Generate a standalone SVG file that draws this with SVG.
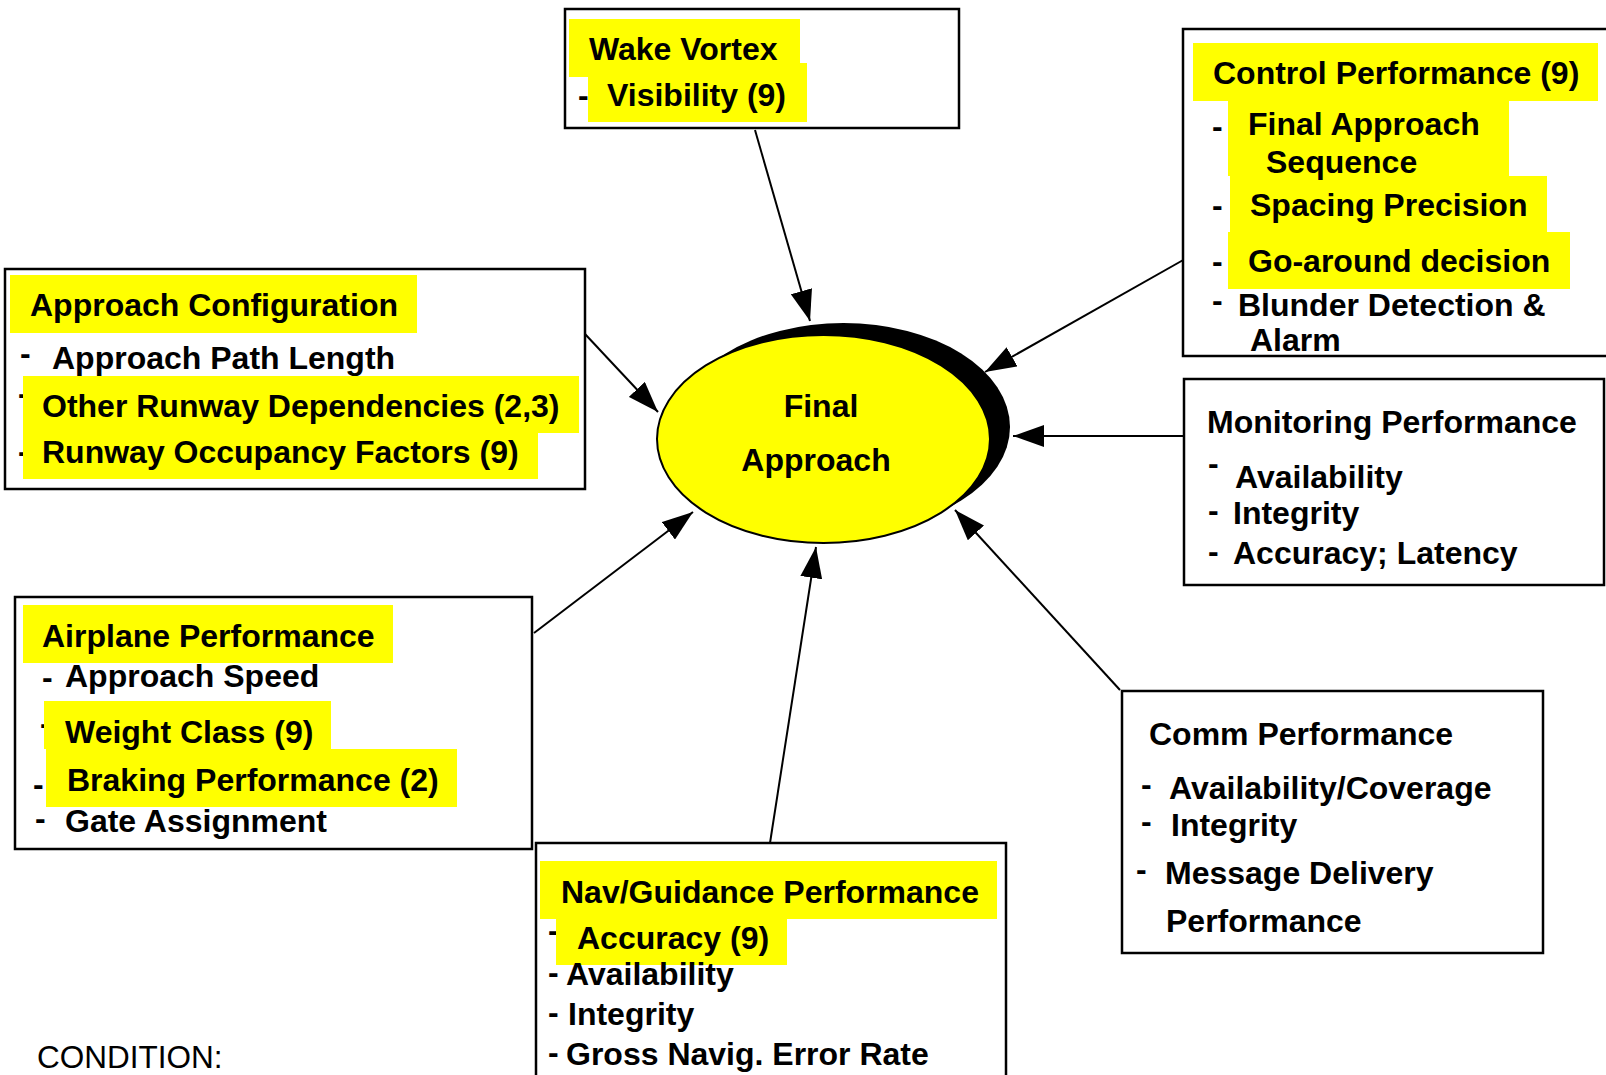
<svg xmlns="http://www.w3.org/2000/svg" width="1606" height="1075" viewBox="0 0 1606 1075">
<style>
.box{fill:#fff;stroke:#000;stroke-width:2.5}
.hl{fill:#ffff00}
.t{font-family:"Liberation Sans",Arial,sans-serif;font-weight:bold;font-size:32px;fill:#000}
.c{font-family:"Liberation Sans",Arial,sans-serif;font-size:31.5px;fill:#000}
.edge{stroke:#000;stroke-width:2;fill:none;marker-end:url(#ah)}
</style>
<defs>
<marker id="ah" markerUnits="userSpaceOnUse" markerWidth="32" markerHeight="22" refX="31" refY="11" orient="auto">
<path d="M0,0 L31,11 L0,22 z" fill="#000"/>
</marker>
</defs>
<rect width="1606" height="1075" fill="#fff"/>

<g id="connectors">
<line class="edge" x1="755" y1="130" x2="810" y2="321"/>
<line class="edge" x1="1185" y1="259" x2="985" y2="372"/>
<line class="edge" x1="1185" y1="436" x2="1013" y2="436"/>
<line class="edge" x1="1120" y1="690" x2="955" y2="510"/>
<line class="edge" x1="770" y1="843" x2="816" y2="547"/>
<line class="edge" x1="534" y1="633" x2="693" y2="512"/>
<line class="edge" x1="585" y1="334" x2="658" y2="412"/>
</g>

<g id="final-approach">
<ellipse cx="843.5" cy="427" rx="166.5" ry="104" fill="#000"/>
<ellipse cx="823.5" cy="439" rx="166.5" ry="104" fill="#ffff00" stroke="#000" stroke-width="2"/>
<text class="t" x="821" y="417" text-anchor="middle">Final</text>
<text class="t" x="816" y="471" text-anchor="middle">Approach</text>
</g>

<g id="wake-vortex">
<rect class="box" x="565" y="9" width="394" height="119"/>
<rect class="hl" x="569" y="19" width="231" height="58"/>
<text class="t" x="578" y="106">-</text>
<rect class="hl" x="588" y="63" width="219" height="59"/>
<text class="t" x="589" y="60">Wake Vortex</text>
<text class="t" x="607" y="106">Visibility (9)</text>
</g>

<g id="control-performance">
<rect class="box" x="1183" y="29" width="440" height="327"/>
<rect class="hl" x="1193" y="43" width="405" height="58"/>
<rect class="hl" x="1228" y="101" width="281" height="75"/>
<rect class="hl" x="1230" y="176" width="317" height="56"/>
<rect class="hl" x="1228" y="232" width="342" height="57"/>
<text class="t" x="1213" y="84">Control Performance (9)</text>
<text class="t" x="1212" y="137">-</text>
<text class="t" x="1248" y="135">Final Approach</text>
<text class="t" x="1266" y="173">Sequence</text>
<text class="t" x="1212" y="216">-</text>
<text class="t" x="1250" y="216">Spacing Precision</text>
<text class="t" x="1212" y="272">-</text>
<text class="t" x="1248" y="272">Go-around decision</text>
<text class="t" x="1212" y="311">-</text>
<text class="t" x="1238" y="316">Blunder Detection &amp;</text>
<text class="t" x="1250" y="351">Alarm</text>
</g>

<g id="approach-configuration">
<rect class="box" x="5" y="269" width="580" height="220"/>
<rect class="hl" x="10" y="275" width="407" height="58"/>
<text class="t" x="30" y="316">Approach Configuration</text>
<text class="t" x="20" y="364">-</text>
<text class="t" x="52" y="369">Approach Path Length</text>
<text class="t" x="18" y="404">-</text>
<text class="t" x="18" y="462">-</text>
<rect class="hl" x="23" y="376" width="556" height="57"/>
<rect class="hl" x="23" y="433" width="515" height="46"/>
<text class="t" x="42" y="417">Other Runway Dependencies (2,3)</text>
<text class="t" x="42" y="463">Runway Occupancy Factors (9)</text>
</g>

<g id="monitoring-performance">
<rect class="box" x="1184" y="379" width="420" height="206"/>
<text class="t" x="1207" y="433">Monitoring Performance</text>
<text class="t" x="1208" y="474">-</text>
<text class="t" x="1235" y="488">Availability</text>
<text class="t" x="1208" y="521">-</text>
<text class="t" x="1233" y="524">Integrity</text>
<text class="t" x="1208" y="562">-</text>
<text class="t" x="1233" y="564">Accuracy; Latency</text>
</g>

<g id="airplane-performance">
<rect class="box" x="15" y="597" width="517" height="252"/>
<rect class="hl" x="23" y="605" width="370" height="58"/>
<text class="t" x="42" y="647">Airplane Performance</text>
<text class="t" x="42" y="688">-</text>
<text class="t" x="65" y="687">Approach Speed</text>
<text class="t" x="40" y="734">-</text>
<text class="t" x="33" y="795">-</text>
<rect class="hl" x="44" y="701" width="287" height="48"/>
<rect class="hl" x="46" y="749" width="411" height="58"/>
<text class="t" x="65" y="743">Weight Class (9)</text>
<text class="t" x="67" y="791">Braking Performance (2)</text>
<text class="t" x="35" y="829">-</text>
<text class="t" x="65" y="832">Gate Assignment</text>
</g>

<g id="nav-guidance-performance">
<rect class="box" x="536" y="843" width="470" height="250"/>
<rect class="hl" x="540" y="861" width="457" height="58"/>
<text class="t" x="561" y="903">Nav/Guidance Performance</text>
<text class="t" x="548" y="941">-</text>
<rect class="hl" x="556" y="919" width="231" height="46"/>
<text class="t" x="577" y="949">Accuracy (9)</text>
<text class="t" x="548" y="983">-</text>
<text class="t" x="566" y="985">Availability</text>
<text class="t" x="548" y="1023">-</text>
<text class="t" x="568" y="1025">Integrity</text>
<text class="t" x="548" y="1063">-</text>
<text class="t" x="566" y="1065">Gross Navig. Error Rate</text>
</g>

<g id="comm-performance">
<rect class="box" x="1122" y="691" width="421" height="262"/>
<text class="t" x="1149" y="745">Comm Performance</text>
<text class="t" x="1141" y="795">-</text>
<text class="t" x="1169" y="799">Availability/Coverage</text>
<text class="t" x="1141" y="832">-</text>
<text class="t" x="1171" y="836">Integrity</text>
<text class="t" x="1136" y="880">-</text>
<text class="t" x="1165" y="884">Message Delivery</text>
<text class="t" x="1166" y="932">Performance</text>
</g>

<text class="c" x="37" y="1068">CONDITION:</text>
</svg>
